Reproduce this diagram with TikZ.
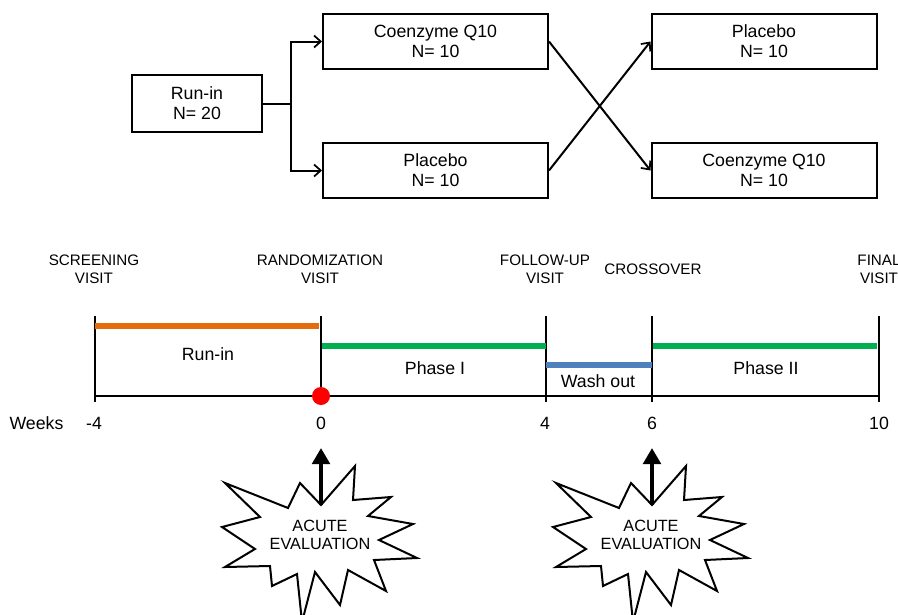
\documentclass[tikz,border=0pt]{standalone}
\usepackage{fontspec}
\setmainfont{Liberation Sans}
\usetikzlibrary{arrows.meta}
\definecolor{runorange}{RGB}{228,108,10}
\definecolor{phgreen}{RGB}{0,176,80}
\definecolor{wblue}{RGB}{79,129,189}
\newcommand{\acutestarpath}{(225,483) -- (288,508) -- (300,483) -- (321,505) -- (355,466) -- (353,500) -- (391,497) -- (368,516) -- (413,524) -- (379,540) -- (417,558) -- (374,560) -- (386,591) -- (348,570) -- (340,605) -- (315,572) -- (302,622) -- (297,574) -- (272,586) -- (270,566) -- (225,567) -- (255,549) -- (222,527) -- (260,517) -- cycle}
\begin{document}
\begin{tikzpicture}[x=0.75pt,y=-0.75pt,
  armbox/.style={draw,line width=1.5pt,minimum width=168.75pt,minimum height=41.25pt,align=center,inner sep=0pt,font=\fontsize{13.3}{15}\selectfont},
  runbox/.style={armbox,minimum width=97.5pt,minimum height=42.75pt},
  conn/.style={line width=1.5pt},
  connarrow/.style={conn,-{Straight Barb[length=5pt,width=9pt,line width=1.3pt]}},
  tick/.style={line width=1.5pt},
  visitlabel/.style={align=center,inner sep=0pt,font=\fontsize{11.4}{13.5}\selectfont},
  phaselabel/.style={inner sep=0pt,font=\fontsize{13.3}{15}\selectfont},
  bar/.style={line width=4.5pt},
  starshape/.style={draw,fill=white,line width=1.5pt,line join=miter},
  startext/.style={align=center,inner sep=0pt,font=\fontsize{12.2}{13.5}\selectfont},
  uparrow/.style={line width=3pt,-{Triangle[length=12pt,width=13pt]}}
]
\clip (0,0) rectangle (898,614);
\useasboundingbox (0,0) rectangle (898,614);

% ---- top flow ----
\node[runbox] (runin) at (197,103.5) {Run-in\\N= 20};
\node[armbox] (cq1) at (435.5,41.5) {Coenzyme Q10\\N= 10};
\node[armbox] (pl1) at (435.5,170.5) {Placebo\\N= 10};
\node[armbox] (pl2) at (764,41.5) {Placebo\\N= 10};
\node[armbox] (cq2) at (764,170.5) {Coenzyme Q10\\N= 10};
\coordinate (split) at (291,103.5);
\draw[conn] (runin.east) -- (split);
\draw[connarrow] (split) |- (cq1.west);
\draw[connarrow] (split) |- (pl1.west);
\draw[connarrow] (cq1.east) -- (cq2.west);
\draw[connarrow] (pl1.east) -- (pl2.west);

% ---- timeline ----
\coordinate (wm4) at (95,396);
\coordinate (w0) at (321,396);
\coordinate (w4) at (546,396);
\coordinate (w6) at (652,396);
\coordinate (w10) at (879,396);
\foreach \c in {wm4,w0,w4,w6,w10}{
  \draw[tick] ([yshift=60pt]\c) -- ([yshift=-4.5pt]\c);
}
\draw[tick] (wm4) -- (w10);
\draw[bar,runorange] ([yshift=52.5pt]wm4) -- ([yshift=52.5pt,xshift=-1.5pt]w0);
\draw[bar,phgreen] ([yshift=37.5pt,xshift=0.75pt]w0) -- ([yshift=37.5pt]w4);
\draw[bar,wblue] ([yshift=23.25pt]w4) -- ([yshift=23.25pt]w6);
\draw[bar,phgreen] ([yshift=37.5pt,xshift=0.75pt]w6) -- ([yshift=37.5pt,xshift=-1.5pt]w10);
\fill[red] (w0) circle[radius=6.75pt];

\node[phaselabel] (lrun) at (208,354) {Run-in};
\node[phaselabel] (lph1) at (435,368) {Phase I};
\node[phaselabel] (lwash) at (598,381) {Wash out};
\node[phaselabel] (lph2) at (766,368) {Phase II};

\node[visitlabel] (vscr) at (94,269) {SCREENING\\VISIT};
\node[visitlabel] (vran) at (320,269) {RANDOMIZATION\\VISIT};
\node[visitlabel] (vfol) at (545,269) {FOLLOW-UP\\VISIT};
\node[visitlabel] (vcro) at (653,269.5) {CROSSOVER};
\node[visitlabel] (vfin) at (879,269) {FINAL\\VISIT};

\node[phaselabel] (weeks) at (36.5,423) {Weeks};
\node[phaselabel] (nm4) at (94,423) {-4};
\node[phaselabel] (n0) at (321,423) {0};
\node[phaselabel] (n4) at (545,423) {4};
\node[phaselabel] (n6) at (652,423) {6};
\node[phaselabel] (n10) at (879,423) {10};

% ---- acute evaluation stars ----
\draw[starshape] \acutestarpath;
\node[startext] (acute1) at (320,535) {ACUTE\\EVALUATION};
\coordinate (a1base) at (321,505);
\coordinate (a1tip) at (321,448);
\draw[uparrow] (a1base) -- (a1tip);

\begin{scope}[shift={(331,0)}]
\draw[starshape] \acutestarpath;
\node[startext] (acute2) at (320,535) {ACUTE\\EVALUATION};
\coordinate (a2base) at (321,505);
\coordinate (a2tip) at (321,448);
\draw[uparrow] (a2base) -- (a2tip);
\end{scope}
\end{tikzpicture}
\end{document}
